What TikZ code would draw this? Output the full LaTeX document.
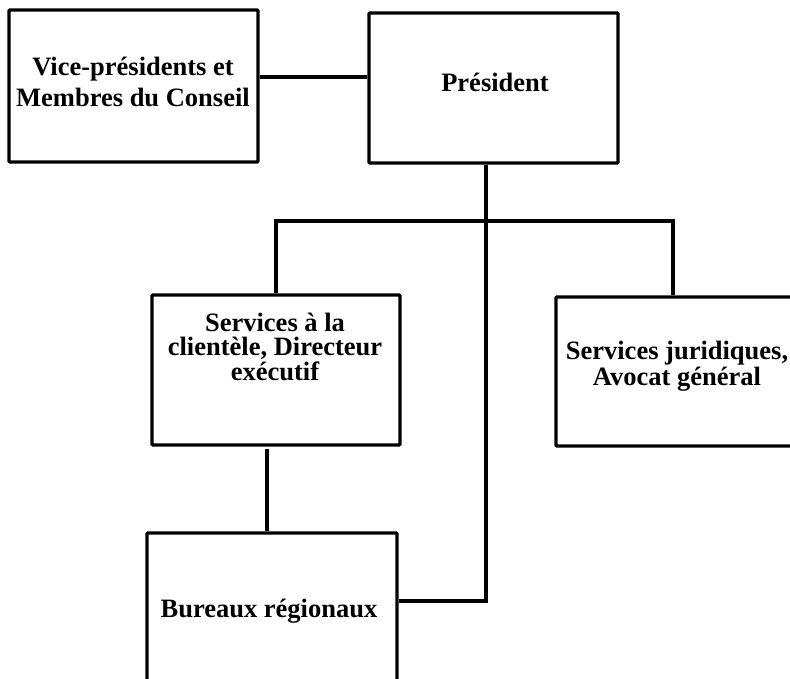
\documentclass[tikz,border=0pt]{standalone}
\usepackage{fontspec}
\setmainfont{Liberation Serif}
\begin{document}
\begin{tikzpicture}[x=1pt,y=-1pt,
  box/.style={draw=black,line width=3.2pt,rounded corners=1pt,rectangle,inner sep=0pt},
  lbl/.style={anchor=base,align=center,inner sep=0pt,font=\bfseries\fontsize{26.5}{31}\selectfont},
  conn/.style={draw=black,line width=3.2pt}]
\useasboundingbox (0,0) rectangle (790,679);
\clip (0,0) rectangle (790,679);
\fill[white] (0,0) rectangle (790,679);
% boxes
\node[box,minimum width=249pt,minimum height=152pt] (vp) at (133.5,86) {};
\node[box,minimum width=249pt,minimum height=150pt] (pres) at (493.5,88) {};
\node[box,minimum width=248pt,minimum height=150pt] (cli) at (276,370) {};
\node[box,minimum width=260pt,minimum height=149pt] (jur) at (686,371.5) {};
\node[box,minimum width=250pt,minimum height=170pt] (bur) at (272,618) {};
% labels (base anchor = baseline of last line)
\node[lbl] (tvp) at (133,107) {Vice-présidents et\\Membres du Conseil};
\node[lbl] (tpres) at (495,92) {Président};
\node[lbl,font=\bfseries\fontsize{26.5}{24.5}\selectfont] (tcli) at (275,380) {Services à la\\clientèle, Directeur\\exécutif};
\node[lbl,font=\bfseries\fontsize{26.5}{26}\selectfont] (tjur) at (677,385) {Services juridiques,\\Avocat général};
\node[lbl] (tbur) at (269,617) {Bureaux régionaux};
% connectors
\coordinate (h1) at (0,77);
\coordinate (trunk) at (486,0);
\coordinate (bar) at (0,221);
\coordinate (lx) at (276,0);
\coordinate (rx) at (673,0);
\coordinate (bx) at (267,0);
\coordinate (by) at (0,601);
\draw[conn] (h1 -| vp.east) -- (h1 -| pres.west);
\draw[conn] (trunk |- pres.south) -- (trunk |- by) -- (by -| bur.east);
\draw[conn] (lx |- cli.north) -- (lx |- bar) -- (rx |- bar) -- (rx |- jur.north);
\draw[conn] (bx |- 0,449) -- (bx |- bur.north);
\end{tikzpicture}
\end{document}
